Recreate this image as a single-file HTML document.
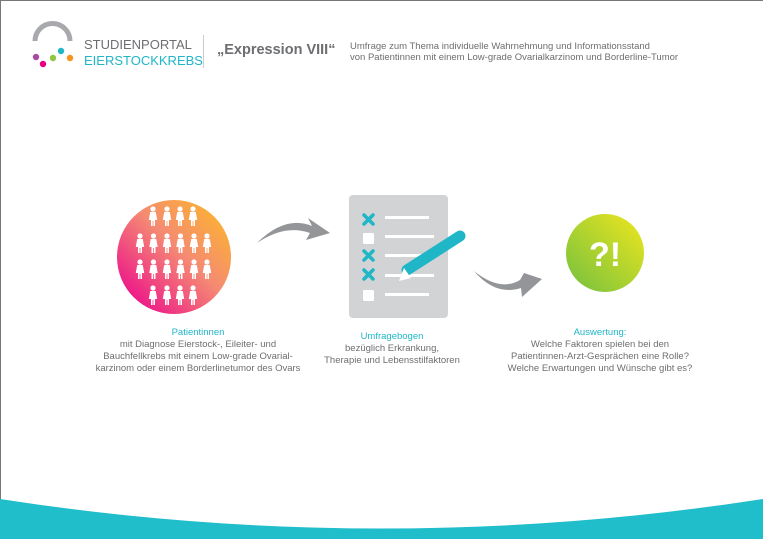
<!DOCTYPE html>
<html><head><meta charset="utf-8"><style>
html,body{margin:0;width:763px;height:539px;overflow:hidden}
body{background:#fff;font-family:"Liberation Sans",sans-serif;position:relative}
.t{position:absolute;text-align:center;font-size:9.5px;line-height:12px;color:#6d6e71}
.t b{font-weight:normal;color:#1fb6c8}
</style></head><body>
<svg width="763" height="539" style="position:absolute;left:0;top:0">
<defs>
<linearGradient id="g1" x1="0" y1="1" x2="1" y2="0"><stop offset="0.1" stop-color="#ec0f8b"/><stop offset="0.55" stop-color="#f58a73"/><stop offset="0.9" stop-color="#fbb233"/></linearGradient>
<linearGradient id="g2" x1="0" y1="1" x2="1" y2="0"><stop offset="0.1" stop-color="#7fc43c"/><stop offset="0.85" stop-color="#dde122"/></linearGradient>
<g id="w" fill="#fff"><circle cx="0" cy="-7" r="2.6"/><path d="M-2.8,-4 L2.8,-4 L4.2,4 L2,4 L2,10 L0.4,10 L0.4,5 L-0.4,5 L-0.4,10 L-2,10 L-2,4 L-4.2,4 Z"/></g>
</defs>
<path d="M0.5,539 L0.5,0.5 L763,0.5" fill="none" stroke="#777" stroke-width="1"/>
<path d="M0,499 Q381,558 763,499 L763,539 L0,539 Z" fill="#20bdcb"/>
<path d="M35,41 A17,17 0 0 1 70,41" fill="none" stroke="#a7a9ac" stroke-width="5"/>
<circle cx="36" cy="57" r="3.2" fill="#a94b9e"/><circle cx="43" cy="64" r="3.2" fill="#e6007e"/><circle cx="53" cy="58" r="3.2" fill="#8dc63f"/><circle cx="61" cy="51" r="3.2" fill="#1fb6c8"/><circle cx="70" cy="58" r="3.2" fill="#f7941d"/>
<line x1="203.5" y1="35" x2="203.5" y2="68" stroke="#ccc"/>
<circle cx="174" cy="257" r="57" fill="url(#g1)"/>
<g>
<use href="#w" x="153" y="216"/><use href="#w" x="167" y="216"/><use href="#w" x="180" y="216"/><use href="#w" x="193" y="216"/>
<use href="#w" x="140" y="243"/><use href="#w" x="153.5" y="243"/><use href="#w" x="167" y="243"/><use href="#w" x="180.5" y="243"/><use href="#w" x="194" y="243"/><use href="#w" x="207" y="243"/>
<use href="#w" x="140" y="269"/><use href="#w" x="153.5" y="269"/><use href="#w" x="167" y="269"/><use href="#w" x="180.5" y="269"/><use href="#w" x="194" y="269"/><use href="#w" x="207" y="269"/>
<use href="#w" x="153" y="295"/><use href="#w" x="167" y="295"/><use href="#w" x="180" y="295"/><use href="#w" x="193" y="295"/>
</g>
<path d="M257,243 Q285,215 312,226 L308,218 L330,233 L306,240 L310,233 Q285,224 257,243 Z" fill="#939598"/>
<path d="M474,271 Q500,292 520,280 L524,273 L542,279 L522,297 L521,288 Q495,296 474,271 Z" fill="#939598"/>
<rect x="349" y="195" width="99" height="123" rx="4" fill="#d1d3d4"/>
<g fill="#fff"><rect x="385" y="216" width="44" height="3"/><rect x="385" y="235" width="49" height="3"/><rect x="385" y="254" width="40" height="3"/><rect x="385" y="274" width="49" height="3"/><rect x="385" y="293" width="44" height="3"/>
<rect x="363" y="233" width="11" height="11" rx="1.5"/><rect x="363" y="290" width="11" height="11" rx="1.5"/></g>
<g stroke="#1fb6c8" stroke-width="3.5" stroke-linecap="round"><path d="M364,215 L373,224 M373,215 L364,224 M364,251 L373,260 M373,251 L364,260 M364,270 L373,279 M373,270 L364,279"/></g>
<path d="M460,236 L407,270" stroke="#1fb6c8" stroke-width="11" stroke-linecap="round"/>
<path d="M404,268 L411,278 L399,281 Z" fill="#fff"/>
<circle cx="605" cy="253" r="39" fill="url(#g2)"/>
<text x="605" y="266" text-anchor="middle" font-family="Liberation Sans" font-weight="bold" font-size="34" fill="#fff">?!</text>
</svg>
<div style="position:absolute;left:84px;top:37px;font-size:13px;line-height:16px;color:#6d6e71">STUDIENPORTAL</div>
<div style="position:absolute;left:84px;top:53px;font-size:13px;line-height:16px;color:#1fb6c8">EIERSTOCKKREBS</div>
<div style="position:absolute;left:217px;top:42px;font-size:14.5px;color:#6d6e71;font-weight:bold">„Expression VIII“</div>
<div style="position:absolute;left:350px;top:41px;font-size:9.5px;line-height:11px;color:#6d6e71">Umfrage zum Thema individuelle Wahrnehmung und Informationsstand<br>von Patientinnen mit einem Low-grade Ovarialkarzinom und Borderline-Tumor</div>
<div class="t" style="left:68px;top:327px;width:260px"><b>Patientinnen</b><br>mit Diagnose Eierstock-, Eileiter- und<br>Bauchfellkrebs mit einem Low-grade Ovarial-<br>karzinom oder einem Borderlinetumor des Ovars</div>
<div class="t" style="left:292px;top:331px;width:200px"><b>Umfragebogen</b><br>bezüglich Erkrankung,<br>Therapie und Lebensstilfaktoren</div>
<div class="t" style="left:480px;top:327px;width:240px"><b>Auswertung:</b><br>Welche Faktoren spielen bei den<br>Patientinnen-Arzt-Gesprächen eine Rolle?<br>Welche Erwartungen und Wünsche gibt es?</div>
</body></html>
